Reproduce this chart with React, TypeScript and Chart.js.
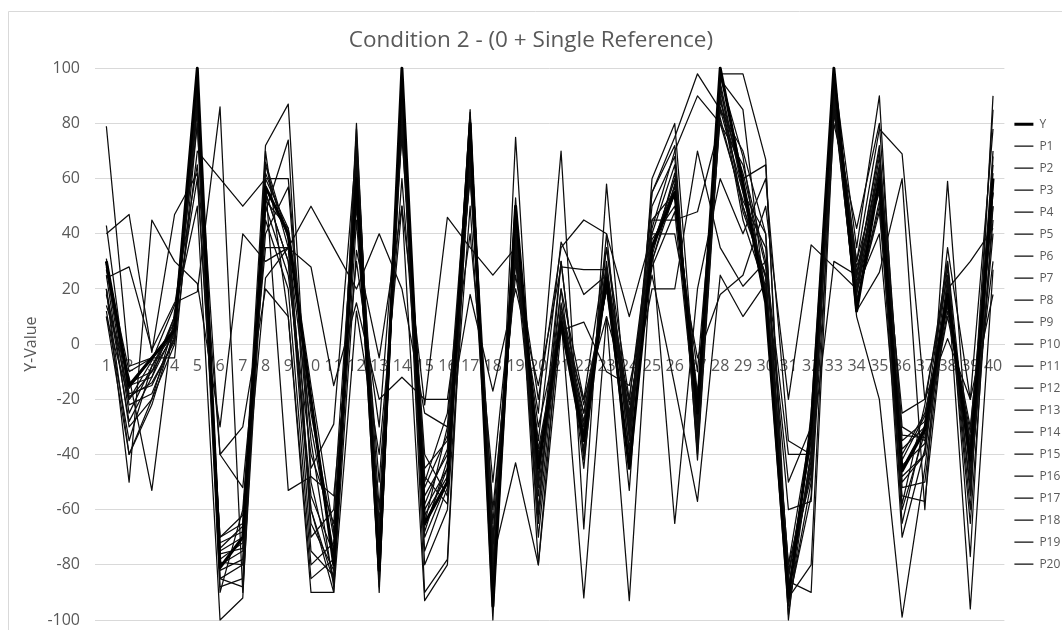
import React, { useEffect, useRef } from "react";
import { Chart, registerables } from "chart.js";

Chart.register(...registerables);
Chart.defaults.font.family = "'Open Sans', sans-serif";

// x categories (trial number)
const categories = [
  "1", "2", "3", "4", "5", "6", "7", "8", "9", "10",
  "11", "12", "13", "14", "15", "16", "17", "18", "19", "20",
  "21", "22", "23", "24", "25", "26", "27", "28", "29", "30",
  "31", "32", "33", "34", "35", "36", "37", "38", "39", "40",
];

// reference signal
const seriesY = [30, -15, -5, 5, 100, -81, -70, 57, 40, -20, -80, 60, -82, 100, -65, -50, 80, -95, 50, -45, 8, -35, 24, -45, 35, 55, -25, 100, 58, 15, -92, -30, 100, 12, 60, -46, -31, 18, -42, 60];

// participant responses
const p1 = [79, -8, -5, 3, 95, -80, -75, 57, 40, -20, -80, 70, -80, 95, -60, -45, 80, -85, 40, -45, 10, -30, 25, -30, 35, 60, -30, 100, 60, 20, -90, -40, 100, 20, 60, -45, -30, 20, -40, 60];
const p2 = [43, -20, -10, 10, 90, -75, -70, 65, 35, -30, -75, 60, -75, 90, -55, -40, 75, -80, 35, -40, 5, -25, 20, -25, 30, 55, -20, 95, 55, 15, -85, -35, 95, 15, 50, -40, -25, 15, -35, 55];
const p3 = [40, 47, -3, 47, 62, -70, -65, 72, 87, -50, -85, 80, -90, 100, -70, -50, 85, -100, 75, -60, 20, -45, 40, -40, 55, 75, 98, 85, 70, 40, -95, -50, 90, 30, 78, 69, -20, 25, -60, 90];
const p4 = [30, -15, -12, 5, 85, -85, -80, 60, 42, -25, -70, 55, -70, 80, -45, -35, 70, -70, 30, -30, 8, -20, 35, -20, 40, 65, -40, 90, 50, 25, -80, -30, 85, 25, 70, -30, -35, 12, -30, 50];
const p5 = [30, -18, -15, 2, 92, -78, -72, 55, 30, -60, -90, 75, -85, 96, -65, -30, 78, -90, 45, -50, 30, -40, 27, -53, 60, 80, -25, 98, 98, 67, -100, -25, 98, 35, 90, -50, -40, 35, -20, 78];
const p6 = [28, -25, -8, 8, 80, -90, -60, 50, 25, -40, -65, 50, -50, 60, -50, -25, 60, -60, 25, -25, 70, -67, 58, -35, 45, 45, 48, 80, 65, 30, -60, -57, 80, 42, 80, -35, -28, 30, -77, 68];
const p7 = [24, 28, -2, 15, 19, 86, -90, 48, 74, -70, -60, 65, -60, 85, -80, -60, 50, -75, 50, -70, 9, -92, 10, -93, 35, -65, 20, 60, 40, 60, -35, -40, 88, 12, 26, 60, -60, 59, -50, 40];
const p8 = [25, -30, -20, 0, 70, 60, 50, 60, 60, -35, -88, 34, -5, 50, -22, 46, 35, 25, 35, -20, 35, 45, 40, 10, 40, 40, -5, 18, 25, 50, -20, 36, 28, 20, 40, -55, -57, 20, 30, 42];
const p9 = [20, -40, -22, 5, 88, -72, -68, 45, 20, -80, -72, 60, -78, 92, -62, -48, 72, -82, 38, -42, 12, -28, 22, -28, 30, 58, -35, 92, 58, 18, -88, -45, 96, 18, 58, -60, -32, 18, -45, 58];
const p10 = [20, -50, 45, 30, 22, -30, 40, 30, 35, 50, 35, 20, 40, 20, -25, -30, 18, -17, 20, -15, 28, 27, 27, -22, 20, 20, 70, 35, 21, 30, -40, -40, 30, 25, 60, -25, -20, 2, -20, 18];
const p11 = [14, -12, -53, 12, 50, -100, -92, 70, 10, -85, -78, 62, -82, 88, -90, -78, 82, -88, 53, -80, 5, 8, -10, -15, 25, -15, -57, 25, 10, 22, -92, -80, 92, 10, -20, -99, -45, 22, -96, 27];
const p12 = [10, -20, -6, 14, 65, -40, -52, 35, 35, 28, -15, 15, -20, -12, -20, -20, 40, -50, 32, -35, 37, 18, 25, -32, 38, 50, -10, 88, 62, 28, -50, -30, 94, 22, 65, -38, -30, 14, -38, 30];
const p13 = [30, -14, -10, 4, 98, -82, -78, 58, -53, -48, -55, 30, -30, 75, -40, -55, 65, -78, -43, -80, 15, -35, 30, -38, 42, 70, 90, 80, 52, 35, -86, -90, 84, 28, 55, -70, -38, 28, -55, 60];
const p14 = [29, -10, -5, 6, 90, -76, -74, 62, 40, -65, -82, 78, -88, 98, -68, -42, 84, -95, 42, -55, 10, -32, 26, -26, 32, 62, -28, 96, 85, 15, -98, -38, 97, 24, 72, -42, -26, 16, -42, 85];
const p15 = [31, -22, -18, 3, 85, -40, -30, 20, 10, -90, -90, 12, -40, 50, -93, -80, 75, -65, 36, -48, 20, -20, 10, -20, 45, 55, -22, 94, 48, 25, -82, -48, 90, 16, 48, -48, -40, 24, -65, 50];
const p16 = [20, -28, -12, 10, 60, -70, -62, 40, 57, -45, -29, 72, -72, 94, -58, -38, 70, -84, 40, -38, 6, -38, 35, -30, 50, 68, -38, 86, 60, 65, -90, -42, 93, 30, 62, -58, -22, 30, -48, 55];
const p17 = [12, -35, -8, 5, 92, -85, -88, 55, 30, -55, -76, 58, -65, 82, -52, -33, 62, -72, 30, -52, 12, -25, 20, -45, 36, 57, -18, 90, 45, 20, -84, -35, 86, 14, 52, -33, -34, 10, -32, 62];
const p18 = [18, -19, -14, 1, 95, -79, -80, 52, 42, -15, -68, 52, -86, 90, -75, -52, 76, -92, 48, -62, 30, -42, 24, -25, 28, 48, -32, 97, 68, 16, -94, -55, 99, 20, 68, -52, -50, 20, -52, 45];
const p19 = [27, -16, -5, -5, 80, -74, -66, 24, 35, -75, -84, 66, -76, 86, -48, -58, 80, -80, 34, -44, 8, -30, 28, -33, 55, 72, -42, 85, 55, 40, -88, -44, 91, 26, 56, -44, -36, 18, -44, 70];
const p20 = [10, -40, -20, 8, 88, -88, -85, 66, 38, -60, -86, 45, -70, 78, -66, -45, 68, -86, 44, -65, 14, -22, 20, -28, 34, 60, -25, 82, 50, 24, -80, -46, 87, 18, 64, -65, -29, 15, -36, 65];

const participantNames = [
  "P1", "P2", "P3", "P4", "P5", "P6", "P7", "P8", "P9", "P10",
  "P11", "P12", "P13", "P14", "P15", "P16", "P17", "P18", "P19", "P20",
];
const participantSeries = [p1, p2, p3, p4, p5, p6, p7, p8, p9, p10, p11, p12, p13, p14, p15, p16, p17, p18, p19, p20];

const TEXT_GREY = "#595959";
const GRID_GREY = "#d9d9d9";

// white background plus the light chart-area border along the top and left
const framePlugin = {
  id: "frame",
  beforeDraw(chart: any) {
    const { ctx, width, height } = chart;
    ctx.save();
    ctx.fillStyle = "#ffffff";
    ctx.fillRect(0, 0, width, height);
    ctx.strokeStyle = GRID_GREY;
    ctx.lineWidth = 1;
    ctx.beginPath();
    ctx.moveTo(8.5, height + 2);
    ctx.lineTo(8.5, 11.5);
    ctx.lineTo(width + 2, 11.5);
    ctx.stroke();
    ctx.restore();
  },
};

export default function App() {
  const canvasRef = useRef<HTMLCanvasElement | null>(null);

  useEffect(() => {
    if (!canvasRef.current) return;

    const datasets: any[] = [
      {
        label: "Y",
        data: seriesY,
        borderColor: "#000000",
        backgroundColor: "#000000",
        borderWidth: 3,
        pointRadius: 0,
        borderJoinStyle: "round",
        tension: 0,
        clip: 6,
      },
      ...participantSeries.map((values, i) => ({
        label: participantNames[i],
        data: values,
        borderColor: "#0d0d0d",
        backgroundColor: "#0d0d0d",
        borderWidth: 1.25,
        pointRadius: 0,
        borderJoinStyle: "round",
        tension: 0,
        clip: 6,
      })),
    ];

    const chart = new Chart(canvasRef.current, {
      type: "line",
      data: { labels: categories, datasets },
      plugins: [framePlugin],
      options: {
        animation: false,
        responsive: false,
        devicePixelRatio: 1,
        events: [],
        layout: { padding: { top: 0, left: 0, right: 0, bottom: 10 } },
        plugins: {
          tooltip: { enabled: false },
          title: {
            display: true,
            text: "Condition 2 - (0 + Single Reference)",
            color: TEXT_GREY,
            font: { size: 22.5, weight: "normal" },
            padding: { top: 27, bottom: 14.3 },
          },
          legend: {
            position: "right",
            align: "center",
            fullSize: false,
            maxWidth: 57.6,
            labels: {
              usePointStyle: true,
              pointStyle: "line",
              pointStyleWidth: 19,
              color: TEXT_GREY,
              font: { size: 12 },
              padding: 10,
            },
          },
        },
        scales: {
          x: {
            type: "category",
            position: { y: 0 },
            offset: true,
            grid: { display: false, drawTicks: false },
            border: { display: true, color: GRID_GREY },
            ticks: {
              autoSkip: false,
              maxRotation: 0,
              minRotation: 0,
              padding: 13,
              color: TEXT_GREY,
              font: { size: 16 },
            },
            // the axis sits on the zero line, so it takes no room below the plot
            afterFit(scale: any) {
              scale.height = 0;
            },
          },
          y: {
            type: "linear",
            min: -100,
            max: 100,
            ticks: {
              stepSize: 20,
              padding: 15,
              color: TEXT_GREY,
              font: { size: 16 },
            },
            grid: { color: GRID_GREY, drawTicks: false },
            border: { display: false },
            title: {
              display: true,
              text: "Y-Value",
              color: TEXT_GREY,
              font: { size: 16 },
              padding: { top: 22, bottom: 0 },
            },
            afterFit(scale: any) {
              scale.width = 95;
              scale.paddingTop = 0;
              scale.paddingBottom = 0;
            },
          },
        },
      } as any,
    });

    return () => chart.destroy();
  }, []);

  return (
    <div style={{ position: "absolute", left: 0, top: 0, width: 1062, height: 630 }}>
      <canvas ref={canvasRef} width={1062} height={630} style={{ display: "block" }} />
    </div>
  );
}
